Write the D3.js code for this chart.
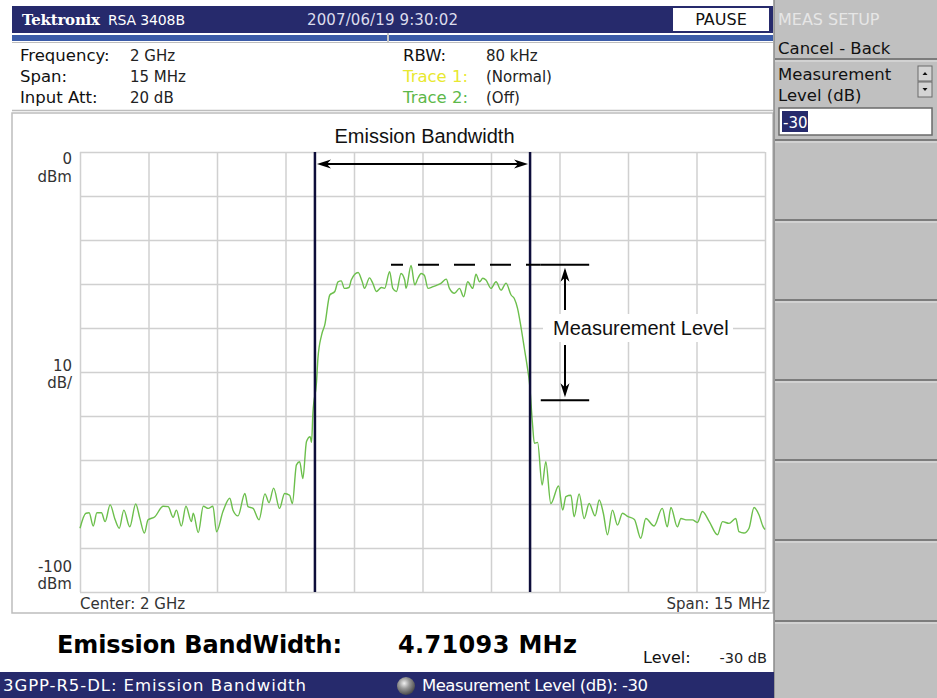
<!DOCTYPE html>
<html>
<head>
<meta charset="utf-8">
<script src="https://cdn.jsdelivr.net/npm/d3@7"></script>
<style>
    body { margin: 0; background: #ffffff; overflow: hidden; }
    svg text { font-family: "DejaVu Sans", Verdana, sans-serif; }
</style>
</head>
<body>
<script>
"use strict";

// trace: offset from center (MHz) and level (dBm)
const traceFreq = [
    -7.50, -7.37, -7.30, -7.21, -7.13, -7.03, -6.95, -6.84, -6.73, -6.64,
    -6.54, -6.41, -6.28, -6.19, -6.09, -6.01, -5.86, -5.68, -5.57, -5.46,
    -5.39, -5.28, -5.18, -5.06, -5.02, -4.91, -4.80, -4.69, -4.59, -4.51,
    -4.37, -4.22, -4.15, -4.04, -3.89, -3.82, -3.71, -3.58, -3.45, -3.36,
    -3.26, -3.13, -3.02, -2.91, -2.85, -2.76, -2.69, -2.62, -2.54, -2.46,
    -2.43, -2.40,
    -2.32, -2.29, -2.21, -2.14, -2.03, -1.92, -1.85, -1.78, -1.71, -1.61,
    -1.56, -1.41, -1.32, -1.27, -1.16, -1.09, -1.01, -0.90, -0.83, -0.72,
    -0.65, -0.57, -0.47, -0.39, -0.36, -0.25, -0.17, -0.10, -0.03, 0.04,
    0.12, 0.23, 0.33, 0.41, 0.52, 0.59, 0.70, 0.81, 0.90, 0.99,
    1.10, 1.17, 1.25, 1.32, 1.39, 1.50, 1.61, 1.72, 1.83, 1.94,
    2.01, 2.08, 2.16, 2.23, 2.30, 2.34,
    2.41, 2.45, 2.52, 2.62, 2.70, 2.81, 2.98, 3.07, 3.14, 3.25,
    3.32, 3.43, 3.54, 3.65, 3.78, 3.87, 3.96, 4.05, 4.16, 4.27,
    4.38, 4.49, 4.64, 4.78, 4.89, 5.07, 5.25, 5.36, 5.44, 5.58,
    5.66, 5.77, 5.91, 6.02, 6.13, 6.28, 6.46, 6.57, 6.71, 6.86,
    6.93, 7.04, 7.15, 7.26, 7.37, 7.46, 7.50
];
const traceLevel = [
    -85.5, -82.1, -82.0, -85.0, -82.0, -82.0, -84.0, -80.2, -83.6, -85.5,
    -81.4, -85.2, -80.0, -83.2, -86.6, -83.6, -82.9, -80.5, -80.6, -83.0,
    -81.4, -85.0, -80.5, -84.0, -82.1, -86.5, -80.5, -81.0, -80.5, -86.3,
    -81.7, -78.7, -81.4, -82.7, -77.6, -80.6, -81.0, -83.6, -77.7, -79.7,
    -76.4, -81.0, -77.6, -78.0, -79.9, -71.1, -70.4, -74.2, -65.8, -64.7,
    -66.0, -59.4,
    -52.2, -46.9, -41.6, -39.3, -32.5, -31.7, -29.5, -29.3, -31.0, -30.8,
    -29.1, -27.4, -29.5, -31.0, -28.6, -29.8, -31.7, -30.8, -31.0, -27.2,
    -31.0, -31.7, -27.6, -29.1, -31.0, -25.8, -30.2, -28.7, -27.6, -28.0,
    -31.0, -30.6, -30.2, -29.8, -28.9, -31.0, -32.1, -31.0, -32.9, -29.5,
    -31.0, -27.8, -29.5, -28.7, -29.1, -31.0, -29.5, -31.4, -29.8, -32.5,
    -33.3, -35.5, -40.0, -44.6, -49.2, -52.2,
    -62.0, -66.2, -66.0, -75.7, -70.4, -79.9, -75.9, -81.4, -78.3, -78.0,
    -82.9, -77.7, -83.3, -79.9, -82.7, -79.1, -82.1, -87.0, -81.4, -84.8,
    -82.1, -82.8, -83.5, -87.8, -83.3, -85.0, -81.0, -85.2, -80.8, -85.2,
    -83.3, -83.6, -83.6, -84.2, -81.7, -84.0, -87.0, -84.0, -84.4, -83.3,
    -86.3, -86.6, -85.5, -80.8, -82.5, -85.2, -85.8
];

// graticule: 10 divisions each way
const gridFreqs = [-7.5, -6, -4.5, -3, -1.5, 0, 1.5, 3, 4.5, 6, 7.5];
const gridLevels = [0, -10, -20, -30, -40, -50, -60, -70, -80, -90, -100];

// emission bandwidth markers (MHz), 4.71093 MHz apart
const markerFreqs = [-2.355465, 2.355465];
// peak reference and the level 30 dB down, as drawn (dBm)
const annotationLevels = [-25.6, -56.4];

const infoLabels = ["Frequency:", "Span:", "Input Att:"];
const infoValues = ["2 GHz", "15 MHz", "20 dB"];
const sideLabels = ["RBW:", "Trace 1:", "Trace 2:"];
const sideValues = ["80 kHz", "(Normal)", "(Off)"];
const sideColors = ["#111111", "#e8e830", "#5db84a"];
const yLabels = [["0", "dBm"], ["10", "dB/"], ["-100", "dBm"]];

(function () {

    const measurements = {
        width: 937,
        height: 698,
        plotLeft: 80,
        plotRight: 765,
        plotTop: 152,
        plotBottom: 592
    };

    const colors = {
        navy: "#262a6c",
        strip: "#3b5ba8",
        panel: "#c0c0c0",
        grid: "#d0d0d0",
        trace: "#6cbf4c",
        marker: "#0d0d3a"
    };

    let svgContainer = d3.select("body").append("svg")
        .attr("width", measurements.width)
        .attr("height", measurements.height);

    let scaleX = d3.scaleLinear()
        .domain([-7.5, 7.5])
        .range([measurements.plotLeft, measurements.plotRight]);

    let scaleY = d3.scaleLinear()
        .domain([0, -100])
        .range([measurements.plotTop, measurements.plotBottom]);

    drawFrame();
    drawHeader();
    drawSidePanel();
    drawAxes();
    plotData();
    drawAnnotations();
    drawFooter();

    function drawFrame() {
        // gray outline round the display area
        svgContainer.append("rect")
            .attr("x", 12).attr("y", 113)
            .attr("width", 761).attr("height", 500)
            .attr("fill", "#ffffff")
            .attr("stroke", "#bdbdbd")
            .attr("stroke-width", 1.5);
        svgContainer.append("line")
            .attr("x1", 12).attr("x2", 773)
            .attr("y1", 110.5).attr("y2", 110.5)
            .attr("stroke", "#bdbdbd").attr("stroke-width", 1.5);
    }

    function drawHeader() {
        svgContainer.append("rect")
            .attr("x", 12).attr("y", 6)
            .attr("width", 761).attr("height", 27)
            .attr("fill", colors.navy);

        svgContainer.append("rect")
            .attr("x", 12).attr("y", 35)
            .attr("width", 761).attr("height", 6)
            .attr("fill", colors.strip);
        svgContainer.append("line")
            .attr("x1", 388).attr("x2", 388)
            .attr("y1", 33).attr("y2", 42)
            .attr("stroke", "#c8c8c8").attr("stroke-width", 2);
        svgContainer.append("line")
            .attr("x1", 12).attr("x2", 773)
            .attr("y1", 42.5).attr("y2", 42.5)
            .attr("stroke", "#bdbdbd").attr("stroke-width", 1);

        svgContainer.append("text")
            .attr("x", 22).attr("y", 25)
            .style("font-family", "'DejaVu Serif', serif")
            .style("font-weight", "bold")
            .style("font-size", "15px")
            .attr("textLength", 78)
            .attr("fill", "#ffffff")
            .text("Tektronix");
        svgContainer.append("text")
            .attr("x", 108).attr("y", 25)
            .style("font-size", "14px")
            .attr("textLength", 77)
            .attr("fill", "#ffffff")
            .text("RSA 3408B");
        svgContainer.append("text")
            .attr("x", 307).attr("y", 25)
            .style("font-size", "15px")
            .attr("textLength", 151)
            .attr("fill", "#dcdcec")
            .text("2007/06/19 9:30:02");

        svgContainer.append("rect")
            .attr("x", 673).attr("y", 8)
            .attr("width", 96).attr("height", 23)
            .attr("fill", "#ffffff");
        svgContainer.append("text")
            .attr("x", 721).attr("y", 25)
            .attr("text-anchor", "middle")
            .style("font-size", "16px")
            .attr("fill", "#111111")
            .text("PAUSE");

        // setup rows
        const rowY = [61, 82, 103];
        const info = svgContainer.append("g").style("font-size", "16.5px");
        infoLabels.forEach(function (label, i) {
            info.append("text").attr("x", 20).attr("y", rowY[i])
                .attr("fill", "#111111").text(label);
            info.append("text").attr("x", 130).attr("y", rowY[i])
                .attr("fill", "#222222").style("font-size", "15px").text(infoValues[i]);
        });
        sideLabels.forEach(function (label, i) {
            info.append("text").attr("x", 403).attr("y", rowY[i])
                .attr("fill", sideColors[i]).text(label);
            info.append("text").attr("x", 486).attr("y", rowY[i])
                .attr("fill", "#222222").style("font-size", "15px").text(sideValues[i]);
        });
    }

    function drawSidePanel() {
        const g = svgContainer.append("g");
        g.append("rect")
            .attr("x", 774).attr("y", 0)
            .attr("width", 163).attr("height", measurements.height)
            .attr("fill", colors.panel);
        g.append("line")
            .attr("x1", 774).attr("x2", 774)
            .attr("y1", 0).attr("y2", measurements.height)
            .attr("stroke", "#8a8a8a").attr("stroke-width", 1.5);

        g.append("text")
            .attr("x", 778).attr("y", 25)
            .style("font-size", "16px")
            .attr("fill", "#e6e6e6")
            .text("MEAS SETUP");
        g.append("text")
            .attr("x", 778).attr("y", 54)
            .style("font-size", "16.5px")
            .attr("fill", "#111111")
            .text("Cancel - Back");
        g.append("text")
            .attr("x", 778).attr("y", 80)
            .style("font-size", "16.5px")
            .attr("fill", "#111111")
            .text("Measurement");
        g.append("text")
            .attr("x", 778).attr("y", 101)
            .style("font-size", "16.5px")
            .attr("fill", "#111111")
            .text("Level (dB)");

        // spin buttons
        [66, 82].forEach(function (top, i) {
            g.append("rect")
                .attr("x", 918).attr("y", top)
                .attr("width", 14).attr("height", 15)
                .attr("fill", "#d4d4d4")
                .attr("stroke", "#6a6a6a").attr("stroke-width", 1);
            const cx = 925, cy = top + 7.5;
            const tri = i === 0
                ? [[cx - 2.5, cy + 1.5], [cx + 2.5, cy + 1.5], [cx, cy - 1.5]]
                : [[cx - 2.5, cy - 1.5], [cx + 2.5, cy - 1.5], [cx, cy + 1.5]];
            g.append("path")
                .attr("d", d3.line()(tri) + "Z")
                .attr("fill", "#111111");
        });

        // entry box with the selected value
        g.append("rect")
            .attr("x", 779).attr("y", 108)
            .attr("width", 153).attr("height", 27)
            .attr("fill", "#ffffff")
            .attr("stroke", "#6a6a6a").attr("stroke-width", 1.5);
        g.append("rect")
            .attr("x", 782).attr("y", 111)
            .attr("width", 26).attr("height", 21)
            .attr("fill", colors.navy);
        g.append("text")
            .attr("x", 783).attr("y", 128)
            .style("font-size", "15px")
            .attr("fill", "#ffffff")
            .text("-30");

        // separators between side keys
        [59, 140, 220, 300, 380, 460, 540, 621].forEach(function (y) {
            g.append("line")
                .attr("x1", 775).attr("x2", 937)
                .attr("y1", y).attr("y2", y)
                .attr("stroke", "#7c7c7c").attr("stroke-width", 2);
            g.append("line")
                .attr("x1", 775).attr("x2", 937)
                .attr("y1", y + 2).attr("y2", y + 2)
                .attr("stroke", "#e4e4e4").attr("stroke-width", 1);
        });
    }

    function drawAxes() {
        // graticule drawn with axis generators
        let xGrid = d3.axisBottom(scaleX)
            .tickValues(gridFreqs)
            .tickSize(-(measurements.plotBottom - measurements.plotTop))
            .tickFormat("");
        let yGrid = d3.axisLeft(scaleY)
            .tickValues(gridLevels)
            .tickSize(-(measurements.plotRight - measurements.plotLeft))
            .tickFormat("");

        const gx = svgContainer.append("g")
            .attr("transform", "translate(0," + measurements.plotBottom + ")")
            .call(xGrid);
        const gy = svgContainer.append("g")
            .attr("transform", "translate(" + measurements.plotLeft + ",0)")
            .call(yGrid);
        [gx, gy].forEach(function (g) {
            g.select(".domain").remove();
            g.selectAll("line")
                .attr("stroke", colors.grid)
                .attr("stroke-width", 1.5);
        });

        // scale labels on the left
        const offsets = [[159, 177], [366, 383], [567, 584]];
        yLabels.forEach(function (pair, i) {
            pair.forEach(function (t, j) {
                svgContainer.append("text")
                    .attr("x", 72)
                    .attr("y", offsets[i][j] + 5)
                    .attr("text-anchor", "end")
                    .style("font-size", "15px")
                    .attr("fill", "#333333")
                    .text(t);
            });
        });

        svgContainer.append("text")
            .attr("x", scaleX(-7.5)).attr("y", 609)
            .style("font-size", "15px")
            .attr("fill", "#333333")
            .text("Center: 2 GHz");
        svgContainer.append("text")
            .attr("x", 770).attr("y", 609)
            .attr("text-anchor", "end")
            .style("font-size", "15px")
            .attr("fill", "#333333")
            .text("Span: 15 MHz");
    }

    function plotData() {
        const points = traceFreq.map(function (f, i) { return [f, traceLevel[i]]; });
        const line = d3.line()
            .x(function (d) { return scaleX(d[0]); })
            .y(function (d) { return scaleY(d[1]); })
            .curve(d3.curveMonotoneX);

        svgContainer.append("path")
            .datum(points)
            .attr("d", line)
            .attr("fill", "none")
            .attr("stroke", colors.trace)
            .attr("stroke-width", 1.4)
            .attr("stroke-linejoin", "round");

        svgContainer.selectAll(".marker")
            .data(markerFreqs)
            .enter()
            .append("line")
            .attr("class", "marker")
            .attr("x1", function (d) { return scaleX(d); })
            .attr("x2", function (d) { return scaleX(d); })
            .attr("y1", measurements.plotTop)
            .attr("y2", measurements.plotBottom)
            .attr("stroke", colors.marker)
            .attr("stroke-width", 2.5);
    }

    function arrowHead(x, y, dir, vertical) {
        // dir = +1 points right/down, -1 points left/up
        const len = 14, half = 4.5;
        let pts;
        if (!vertical) {
            pts = [[x, y], [x - dir * len, y - half], [x - dir * (len - 4), y], [x - dir * len, y + half]];
        } else {
            pts = [[x, y], [x - half, y - dir * len], [x, y - dir * (len - 4)], [x + half, y - dir * len]];
        }
        svgContainer.append("path")
            .attr("d", d3.line()(pts) + "Z")
            .attr("fill", "#000000");
    }

    function drawAnnotations() {
        const ann = "'Liberation Sans', Arial, sans-serif";
        const xL = scaleX(markerFreqs[0]) + 2;
        const xR = scaleX(markerFreqs[1]) - 2;
        const yArrow = 164;

        svgContainer.append("text")
            .attr("x", (xL + xR) / 2 + 2).attr("y", 143)
            .attr("text-anchor", "middle")
            .style("font-family", ann)
            .style("font-size", "20px")
            .attr("fill", "#111111")
            .text("Emission Bandwidth");
        svgContainer.append("line")
            .attr("x1", xL + 6).attr("x2", xR - 6)
            .attr("y1", yArrow).attr("y2", yArrow)
            .attr("stroke", "#000000").attr("stroke-width", 2);
        arrowHead(xL, yArrow, -1, false);
        arrowHead(xR, yArrow, 1, false);

        // measurement level: peak reference and level below it
        const yTop = scaleY(annotationLevels[0]);
        const yBot = scaleY(annotationLevels[1]);
        svgContainer.append("line")
            .attr("x1", scaleX(-0.69)).attr("x2", scaleX(2.59))
            .attr("y1", yTop).attr("y2", yTop)
            .attr("stroke", "#000000").attr("stroke-width", 2)
            .attr("stroke-dasharray", "21,15")
            .attr("stroke-dashoffset", 9);
        [yTop, yBot].forEach(function (y) {
            svgContainer.append("line")
                .attr("x1", scaleX(2.59)).attr("x2", scaleX(3.65))
                .attr("y1", y).attr("y2", y)
                .attr("stroke", "#000000").attr("stroke-width", 2);
        });

        const xArrow = scaleX(3.12);
        svgContainer.append("rect")
            .attr("x", 543).attr("y", 314)
            .attr("width", 190).attr("height", 28)
            .attr("fill", "#ffffff");
        svgContainer.append("line")
            .attr("x1", xArrow).attr("x2", xArrow)
            .attr("y1", yTop + 6).attr("y2", 310)
            .attr("stroke", "#000000").attr("stroke-width", 2);
        svgContainer.append("line")
            .attr("x1", xArrow).attr("x2", xArrow)
            .attr("y1", 345).attr("y2", yBot - 6)
            .attr("stroke", "#000000").attr("stroke-width", 2);
        arrowHead(xArrow, yTop + 3, -1, true);
        arrowHead(xArrow, yBot - 3, 1, true);
        svgContainer.append("text")
            .attr("x", 553).attr("y", 335)
            .style("font-family", ann)
            .style("font-size", "20px")
            .attr("fill", "#111111")
            .text("Measurement Level");
    }

    function drawFooter() {
        svgContainer.append("text")
            .attr("x", 57).attr("y", 653)
            .style("font-weight", "bold")
            .style("font-size", "24px")
            .attr("textLength", 285)
            .attr("fill", "#000000")
            .text("Emission BandWidth:");
        svgContainer.append("text")
            .attr("x", 398).attr("y", 653)
            .style("font-weight", "bold")
            .style("font-size", "24px")
            .attr("textLength", 179)
            .attr("fill", "#000000")
            .text("4.71093 MHz");
        svgContainer.append("text")
            .attr("x", 643).attr("y", 663)
            .style("font-size", "16px")
            .attr("fill", "#111111")
            .text("Level:");
        svgContainer.append("text")
            .attr("x", 767).attr("y", 663)
            .attr("text-anchor", "end")
            .style("font-size", "14.5px")
            .attr("fill", "#222222")
            .text("-30 dB");

        // status bar
        svgContainer.append("rect")
            .attr("x", 0).attr("y", 672)
            .attr("width", 774).attr("height", 26)
            .attr("fill", colors.navy);
        svgContainer.append("text")
            .attr("x", 3).attr("y", 691)
            .style("font-size", "16.5px")
            .attr("textLength", 303)
            .attr("fill", "#ffffff")
            .text("3GPP-R5-DL: Emission Bandwidth");

        const grad = svgContainer.append("defs").append("radialGradient")
            .attr("id", "knob").attr("cx", "40%").attr("cy", "35%").attr("r", "65%");
        grad.append("stop").attr("offset", "0%").attr("stop-color", "#f0f0f0");
        grad.append("stop").attr("offset", "45%").attr("stop-color", "#9a9a9a");
        grad.append("stop").attr("offset", "100%").attr("stop-color", "#4a4a4a");
        svgContainer.append("circle")
            .attr("cx", 406).attr("cy", 686).attr("r", 9)
            .attr("fill", "url(#knob)");

        svgContainer.append("text")
            .attr("x", 422).attr("y", 691)
            .style("font-size", "16.5px")
            .attr("textLength", 226)
            .attr("fill", "#ffffff")
            .text("Measurement Level (dB): -30");
    }

})();
</script>
</body>
</html>
